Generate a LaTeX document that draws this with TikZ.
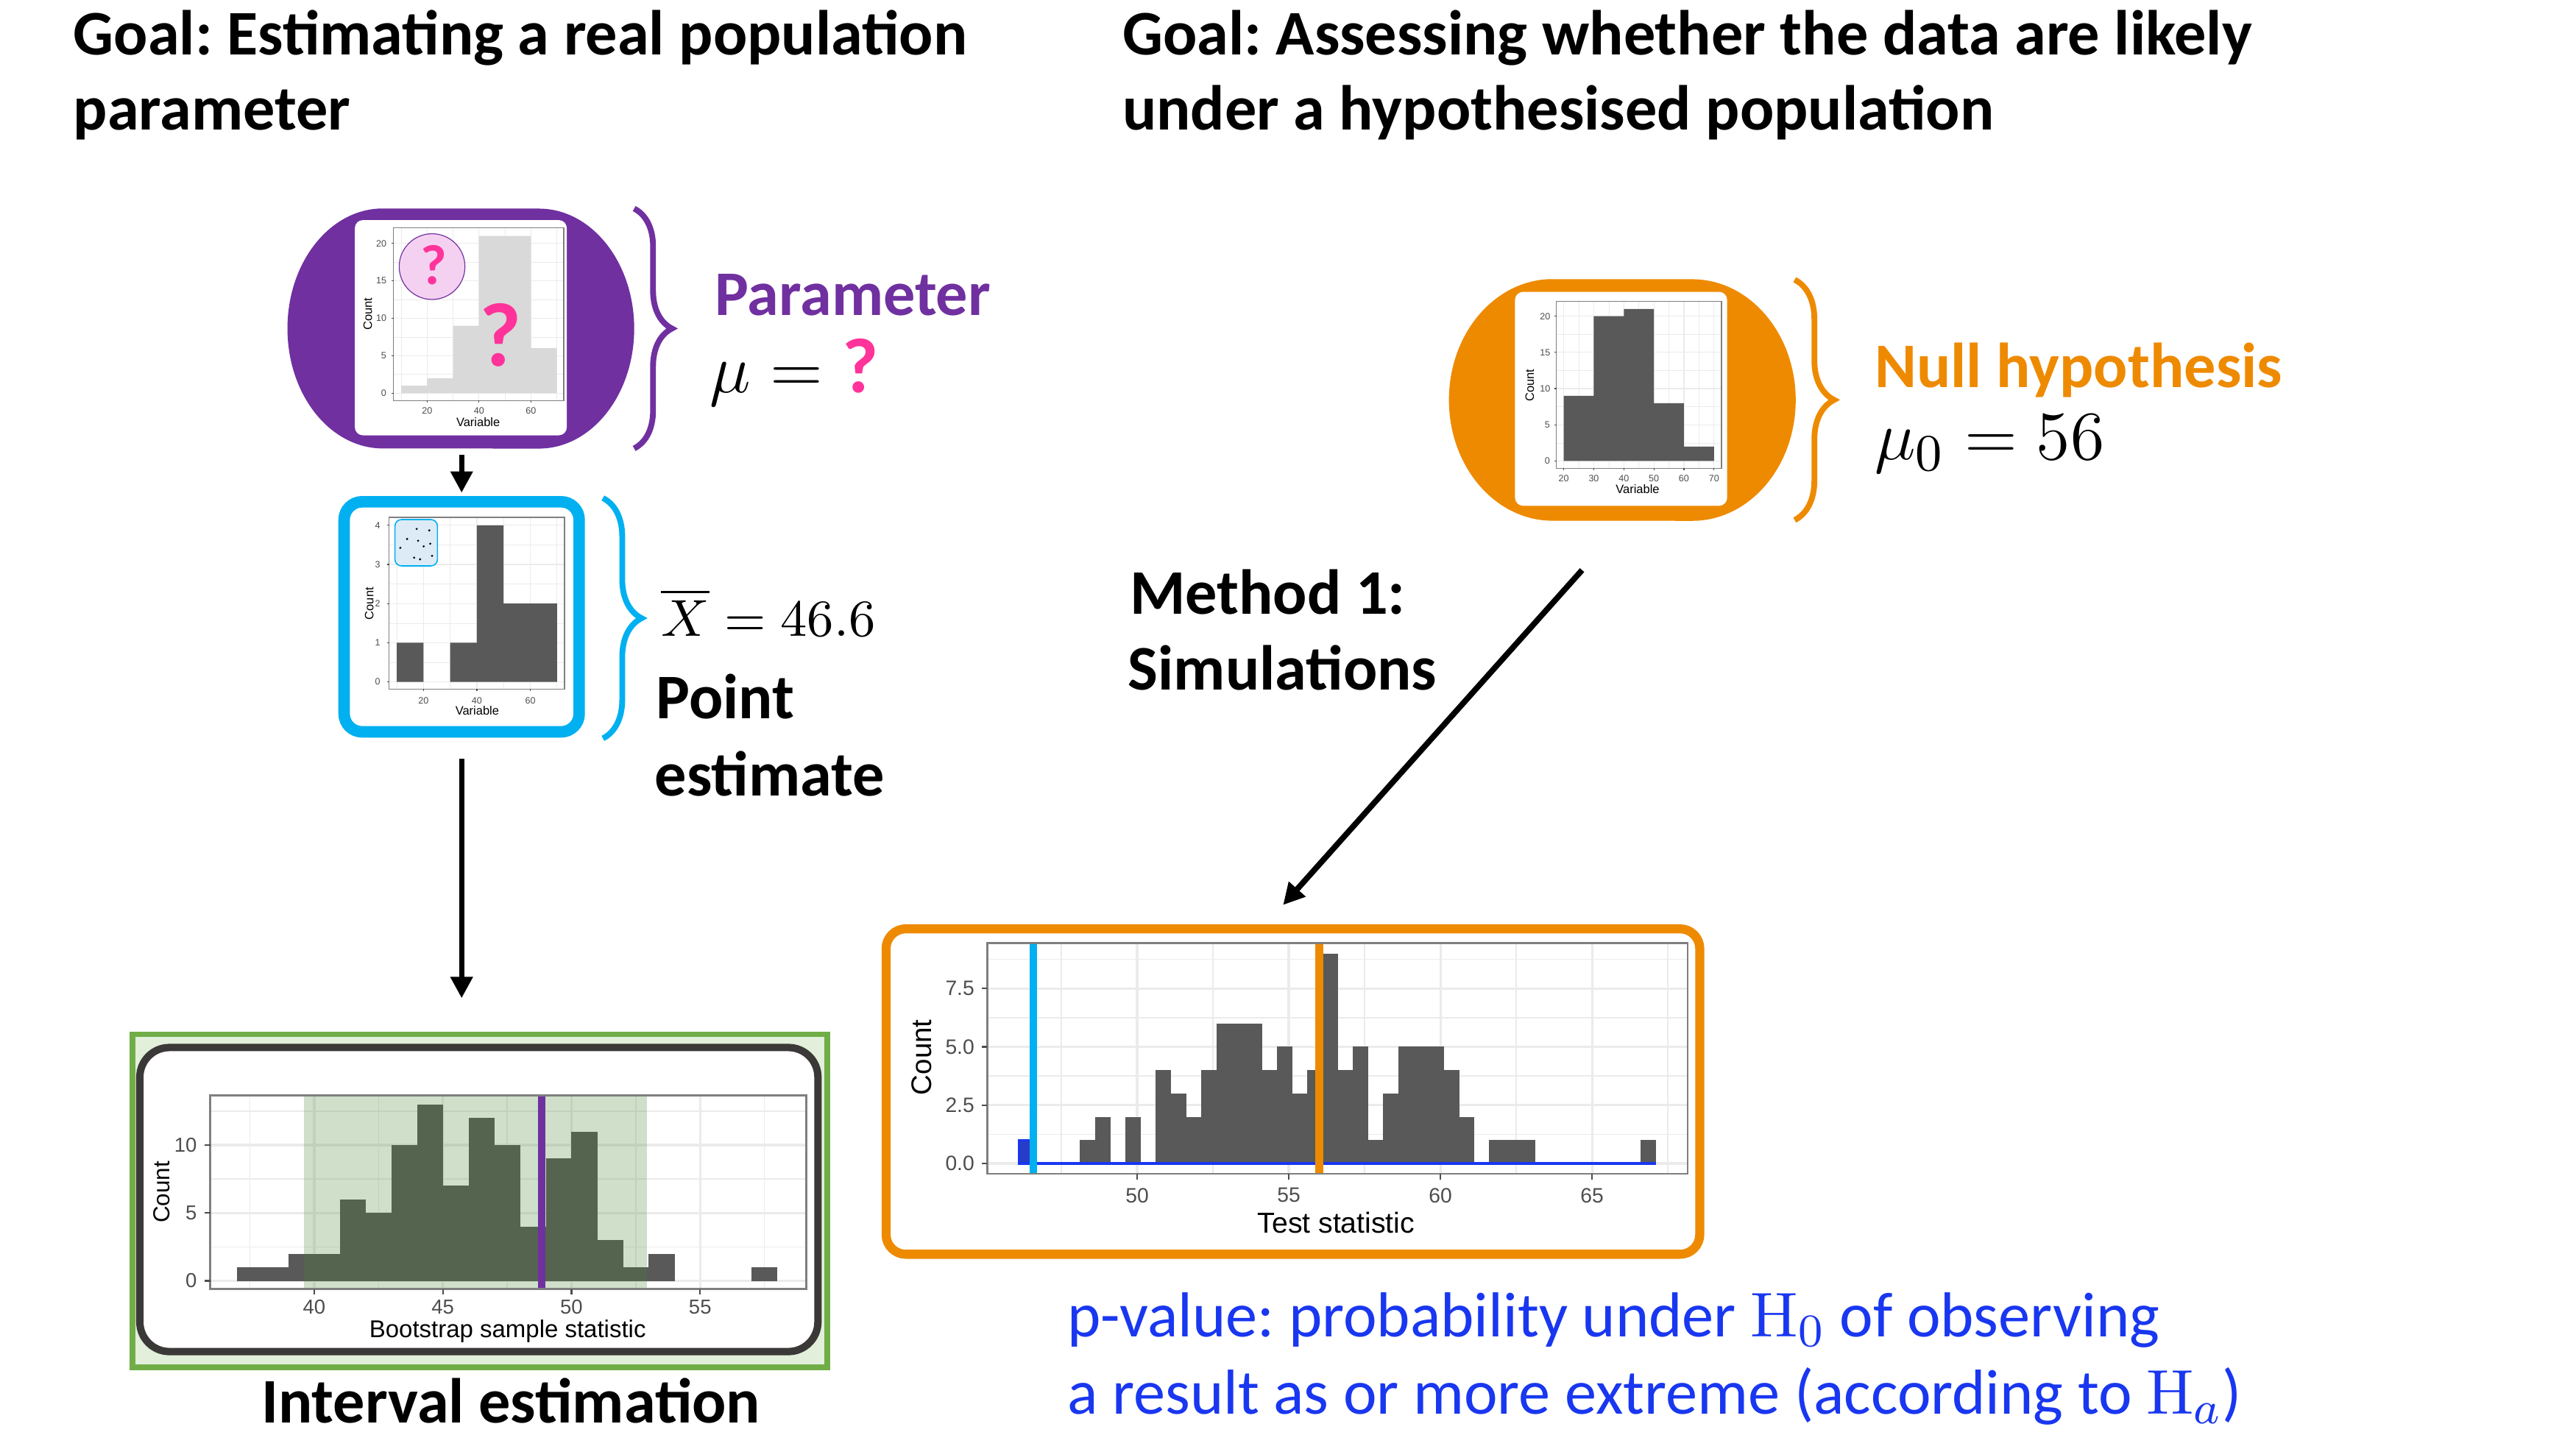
\documentclass[tikz,border=0pt]{standalone}
\usepackage[no-math]{fontspec}
\setmainfont{Carlito}
\newfontfamily\plotfont{Liberation Sans}
\usetikzlibrary{arrows.meta,decorations.pathreplacing,calc}
\definecolor{cpurple}{HTML}{7030A0}
\definecolor{cpink}{HTML}{FF339A}
\definecolor{cpinkl}{HTML}{F4D1F1}
\definecolor{ccyan}{HTML}{00B0F0}
\definecolor{corange}{HTML}{EE8A00}
\definecolor{cgreen}{HTML}{70AD47}
\definecolor{cgreenl}{HTML}{E2EFDA}
\definecolor{cdark}{HTML}{3B3838}
\definecolor{cbar}{HTML}{595959}
\definecolor{cbarl}{HTML}{D9D9D9}
\definecolor{cgrid}{HTML}{EBEBEB}
\definecolor{cband}{RGB}{70,135,54}
\definecolor{cblue}{RGB}{25,55,240}
\definecolor{cbluebar}{RGB}{40,60,200}
\definecolor{cinset}{HTML}{DDEBF7}
\definecolor{ctick}{HTML}{4D4D4D}
\definecolor{cborder}{HTML}{7F7F7F}
\frenchspacing
\begin{document}
\begin{tikzpicture}[x=0.01cm,y=-0.01cm,
  bigt/.style={font=\fontsize{11}{13}\selectfont\bfseries, inner sep=0pt, anchor=base west},
  mathl/.style={font=\fontsize{12.5}{15}\selectfont, inner sep=0pt, anchor=base west},
  bluet/.style={font=\fontsize{11}{13}\selectfont, text=cblue, inner sep=0pt, anchor=base west},
  card/.style={fill=white, rounded corners=0.05cm, inner sep=0pt, outer sep=0pt},
  holder/.style={draw=none, inner sep=0pt, outer sep=0pt},
  arrowA/.style={line width=0.9pt, -{Triangle[length=0.13cm,width=0.13cm]}},
  bracep/.style={decorate, decoration={brace, amplitude=0.23cm}, line width=1pt},
  tickS/.style={font=\plotfont\fontsize{1.6}{1.9}\selectfont, text=ctick, inner sep=0pt},
  titleS/.style={font=\plotfont\fontsize{2.1}{2.5}\selectfont, inner sep=0pt},
  tickC/.style={font=\plotfont\fontsize{3.5}{4.2}\selectfont, text=ctick, inner sep=0pt},
  tickD/.style={font=\plotfont\fontsize{3.6}{4.3}\selectfont, text=ctick, inner sep=0pt},
  gmaj/.style={cgrid, line width=0.4pt},
  gmin/.style={cgrid, line width=0.2pt},
  gmajS/.style={cgrid, line width=0.15pt},
  gminS/.style={cgrid, line width=0.08pt},
]
\useasboundingbox[fill=white] (0,0) rectangle (1568,882);

% ---------------- titles
\node[bigt] (lt1) at (44,33.2) {Goal: Estimating a real population};
\node[bigt] (lt2) at (44,79.2) {parameter};
\node[bigt] (rt1) at (682.5,33.2) {Goal: Assessing whether the data are likely};
\node[bigt] (rt2) at (682.5,79.2) {under a hypothesised population};

% ---------------- purple population blob
\node[holder, minimum width=2.11cm, minimum height=1.46cm] (pop) at (280.5,200) {};
\fill[cpurple] (233,127) -- (328,127) arc[start angle=90,end angle=-90,x radius=0.58cm,y radius=0.73cm]
  -- (233,273) arc[start angle=270,end angle=90,x radius=0.58cm,y radius=0.73cm] -- cycle;
\node[card, minimum width=1.29cm, minimum height=1.31cm] (cardA) at (280.5,199.5) {};
\begin{scope}[xshift=2.2825cm, yshift=-2.392cm, x=0.0158cm, y=0.04557cm]
  \foreach \v in {10,30,50,70} \draw[gminS] (\v,-0.99) -- (\v,22.08);
  \foreach \c in {2.5,7.5,12.5,17.5} \draw[gminS] (7.06,\c) -- (72.66,\c);
  \foreach \v in {20,40,60} \draw[gmajS] (\v,-0.99) -- (\v,22.08);
  \foreach \c in {0,5,10,15,20} \draw[gmajS] (7.06,\c) -- (72.66,\c);
  \fill[cbarl] (10,0) rectangle (20,1) (20,0) rectangle (30,2) (30,0) rectangle (40,9)
     (40,0) rectangle (60,21) (60,0) rectangle (70,6);
  \draw[cborder, line width=0.2pt] (7.06,-0.99) rectangle (72.66,22.08);
  \foreach \c [count=\i] in {0,5,10,15,20} {
    \draw[ctick, line width=0.15pt] (7.06,\c) -- ++(-0.012cm,0pt);
    \node[tickS, anchor=east] (ay\i) at ([xshift=-0.0355cm]7.06,\c) {\c};}
  \foreach \v [count=\i] in {20,40,60} {
    \draw[ctick, line width=0.15pt] (\v,-0.99) -- ++(0pt,-0.012cm);
    \node[tickS, anchor=north] (ax\i) at ([yshift=-0.034cm]\v,-0.99) {\v};}
\end{scope}
\node[titleS, rotate=90] (alab) at (223.85,191.1) {Count};
\node[titleS] (axlab) at (291.05,257.1) {Variable};
\draw[cpurple, fill=cpinkl, line width=0.15pt] (263,162.3) circle[radius=0.2cm];
\node[inner sep=0pt, text=cpink, font=\fontsize{9.8}{11}\selectfont\bfseries] (q1) at (263.85,161.6) {?};
\node[inner sep=0pt, text=cpink, font=\fontsize{15.7}{18}\selectfont\bfseries] (q2) at (304.7,203.8) {?};

\draw[bracep, cpurple] (386,127) -- (386,273);
\node[bigt, text=cpurple] (partxt) at (434.6,192) {Parameter};
\node[mathl] (mutxt) at (431.6,239) {$\mu = \mbox{\fontsize{13.5}{15}\selectfont\bfseries\color{cpink}?}$};

% ---------------- cyan sample box
\node[draw=ccyan, line width=0.07cm, fill=white, rounded corners=0.11cm, inner sep=0pt, outer sep=0pt,
      minimum width=1.43cm, minimum height=1.40cm] (samp) at (281,375.5) {};
\begin{scope}[xshift=2.251cm, yshift=-4.149cm, x=0.01625cm, y=0.2382cm]
  \foreach \v in {10,30,50,70} \draw[gminS] (\v,-0.185) -- (\v,4.2);
  \foreach \c in {0.5,1.5,2.5,3.5} \draw[gminS] (7.14,\c) -- (72.86,\c);
  \foreach \v in {20,40,60} \draw[gmajS] (\v,-0.185) -- (\v,4.2);
  \foreach \c in {0,1,2,3,4} \draw[gmajS] (7.14,\c) -- (72.86,\c);
  \fill[cbar] (10,0) rectangle (20,1) (30,0) rectangle (40,1) (40,0) rectangle (50,4) (50,0) rectangle (70,2);
  \draw[cborder, line width=0.2pt] (7.14,-0.185) rectangle (72.86,4.2);
  \foreach \c [count=\i] in {0,1,2,3,4} {
    \draw[ctick, line width=0.15pt] (7.14,\c) -- ++(-0.012cm,0pt);
    \node[tickS, anchor=east] (by\i) at ([xshift=-0.045cm]7.14,\c) {\c};}
  \foreach \v [count=\i] in {20,40,60} {
    \draw[ctick, line width=0.15pt] (\v,-0.185) -- ++(0pt,-0.012cm);
    \node[tickS, anchor=north] (bx\i) at ([yshift=-0.043cm]\v,-0.185) {\v};}
\end{scope}
\node[titleS, rotate=90] (blab) at (224.8,367.4) {Count};
\node[titleS] (bxlab) at (290.5,432.8) {Variable};
\draw[ccyan, fill=cinset, line width=0.2pt, rounded corners=0.04cm] (240.4,316.3) rectangle (266.3,344.5);
\foreach \px/\py in {253.6/322.0, 261.3/322.9, 247.8/328.1, 254.5/329.2, 243.7/333.5,
                     257.9/332.6, 261.9/331.0, 252.1/339.5, 255.7/340.5, 263.0/338.4}
  \fill[black] (\px,\py) circle[radius=0.007cm];

\draw[bracep, ccyan, decoration={amplitude=0.235cm}] (367,303.2) -- (367,449.5);
\node[inner sep=0pt, anchor=base west, font=\fontsize{9.5}{11}\selectfont] (xbar) at (401.8,387.1) {$\overline{X} = 46.6$};
\node[bigt] (pt1) at (398.8,437.6) {Point};
\node[bigt] (pt2) at (398,484.6) {estimate};

% ---------------- bootstrap (interval) box
\node[draw=cgreen, fill=cgreenl, line width=0.035cm, inner sep=0pt, outer sep=0pt,
      minimum width=4.225cm, minimum height=2.025cm] (boot) at (292,731) {};
\node[draw=cdark, fill=white, line width=0.045cm, rounded corners=0.18cm, inner sep=0pt, outer sep=0pt,
      minimum width=4.125cm, minimum height=1.85cm] (bootin) at (291.5,730.25) {};
\begin{scope}[xshift=-4.348cm, yshift=-7.793cm, x=0.1565cm, y=0.0826cm]
  \foreach \v in {37.5,42.5,47.5,52.5,57.5} \draw[gmin] (\v,-0.605) -- (\v,13.67);
  \foreach \c in {2.5,7.5,12.5} \draw[gmin] (35.96,\c) -- (59.13,\c);
  \foreach \v in {40,45,50,55} \draw[gmaj] (\v,-0.605) -- (\v,13.67);
  \foreach \c in {0,5,10} \draw[gmaj] (35.96,\c) -- (59.13,\c);
  \foreach \a/\h in {37/1,38/1,39/2,40/2,41/6,42/5,43/10,44/13,45/7,46/12,47/10,48/4,49/9,50/11,51/3,52/1,53/2,57/1}
    \fill[cbar] (\a,0) rectangle ({\a+1.01},\h);
  \fill[cband, fill opacity=0.26] (39.6,-0.605) rectangle (52.93,13.67);
  \draw[cpurple, line width=0.045cm] (48.83,-0.605) -- (48.83,13.67);
  \draw[cborder, line width=0.35pt] (35.96,-0.605) rectangle (59.13,13.67);
  \foreach \c [count=\i] in {0,5,10} {
    \draw[ctick, line width=0.3pt] (35.96,\c) -- ++(-0.035cm,0pt);
    \node[tickC, anchor=east] (cy\i) at ([xshift=-0.075cm]35.96,\c) {\c};}
  \foreach \v [count=\i] in {40,45,50,55} {
    \draw[ctick, line width=0.3pt] (\v,-0.605) -- ++(0pt,-0.035cm);
    \node[tickC, anchor=north] (cx\i) at ([yshift=-0.058cm]\v,-0.605) {\v};}
\end{scope}
\node[inner sep=0pt, rotate=90, font=\plotfont\fontsize{4}{4.8}\selectfont] (clab) at (98.3,725.8) {Count};
\node[inner sep=0pt, font=\plotfont\fontsize{4.2}{5}\selectfont] (cxlab) at (309,810.2) {Bootstrap sample statistic};
\node[bigt, anchor=base] (intv) at (311,866) {Interval estimation};

% ---------------- arrows left
\draw[arrowA] ($(samp.north |- pop.south)+(0,-0.04cm)$) -- ($(samp.north)+(0,0.055cm)$);
\draw[arrowA] ($(samp.south)+(0,-0.165cm)$) -- ($(samp.south |- boot.north)+(0,0.22cm)$);

% ---------------- orange null population blob
\node[holder, minimum width=2.11cm, minimum height=1.47cm] (nullpop) at (987.5,243.5) {};
\fill[corange] (945,170) -- (1030,170) arc[start angle=90,end angle=-90,x radius=0.63cm,y radius=0.735cm]
  -- (945,317) arc[start angle=270,end angle=90,x radius=0.63cm,y radius=0.735cm] -- cycle;
\node[card, minimum width=1.291cm, minimum height=1.302cm] (cardE) at (986.75,242.8) {};
\begin{scope}[xshift=9.1474cm, yshift=-2.805cm, x=0.01828cm, y=0.04405cm]
  \foreach \v in {25,35,45,55,65} \draw[gminS] (\v,-1.0) -- (\v,22.04);
  \foreach \c in {2.5,7.5,12.5,17.5} \draw[gminS] (17.54,\c) -- (72.46,\c);
  \foreach \v in {20,30,40,50,60,70} \draw[gmajS] (\v,-1.0) -- (\v,22.04);
  \foreach \c in {0,5,10,15,20} \draw[gmajS] (17.54,\c) -- (72.46,\c);
  \fill[cbar] (20,0) rectangle (30,9) (30,0) rectangle (40,20) (40,0) rectangle (50,21)
     (50,0) rectangle (60,8) (60,0) rectangle (70,2);
  \draw[cborder, line width=0.2pt] (17.54,-1.0) rectangle (72.46,22.04);
  \foreach \c [count=\i] in {0,5,10,15,20} {
    \draw[ctick, line width=0.15pt] (17.54,\c) -- ++(-0.012cm,0pt);
    \node[tickS, anchor=east] (ey\i) at ([xshift=-0.03cm]17.54,\c) {\c};}
  \foreach \v [count=\i] in {20,30,40,50,60,70} {
    \draw[ctick, line width=0.15pt] (\v,-1.0) -- ++(0pt,-0.012cm);
    \node[tickS, anchor=north] (ex\i) at ([yshift=-0.033cm]\v,-1.0) {\v};}
\end{scope}
\node[titleS, rotate=90] (elab) at (931.1,234.5) {Count};
\node[titleS] (exlab) at (996.8,297.9) {Variable};

\draw[bracep, corange, decoration={amplitude=0.24cm}] (1092.4,170.3) -- (1092.4,316.6);
\node[bigt, text=corange] (nulltxt) at (1140.5,236) {Null hypothesis};
\node[mathl] (mu0) at (1140.5,280) {$\mu_0 = 56$};

\node[bigt] (m1) at (687,374) {Method 1:};
\node[bigt] (m2) at (686,420) {Simulations};

% ---------------- simulation box
\node[draw=corange, line width=0.055cm, fill=white, rounded corners=0.12cm, inner sep=0pt, outer sep=0pt,
      minimum width=4.95cm, minimum height=1.98cm] (sim) at (787,664.5) {};
\begin{scope}[xshift=-2.307cm, yshift=-7.079cm, x=0.1845cm, y=0.142cm]
  \foreach \v in {47.5,52.5,57.5,62.5,67.5} \draw[gmin] (\v,-0.444) -- (\v,9.44);
  \foreach \c in {1.25,3.75,6.25,8.75} \draw[gmin] (45.06,\c) -- (68.15,\c);
  \foreach \v in {50,55,60,65} \draw[gmaj] (\v,-0.444) -- (\v,9.44);
  \foreach \c in {0,2.5,5,7.5} \draw[gmaj] (45.06,\c) -- (68.15,\c);
  \foreach \k/\h in {4/1,5/2,7/2,9/4,10/3,11/2,12/4,13/6,14/6,15/6,16/4,17/5,18/3,19/4,20/9,21/4,22/5,23/1,24/3,25/5,26/5,27/5,28/4,29/2,31/1,32/1,33/1,41/1}
    \fill[cbar] ({46.11+0.5*\k},0) rectangle ({46.62+0.5*\k},\h);
  \draw[cblue, fill=cbluebar, line width=0.4pt] (46.11,0) rectangle (46.61,1);
  \draw[cblue, line width=0.45pt] (46.11,0) -- (67.11,0);
  \draw[ccyan, line width=0.048cm] (46.58,-0.444) -- (46.58,9.44);
  \draw[corange, line width=0.048cm] (56.0,-0.444) -- (56.0,9.44);
  \draw[cborder, line width=0.35pt] (45.06,-0.444) rectangle (68.15,9.44);
  \foreach \c/\l [count=\i] in {0/0.0,2.5/2.5,5/5.0,7.5/7.5} {
    \draw[ctick, line width=0.3pt] (45.06,\c) -- ++(-0.035cm,0pt);
    \node[tickD, anchor=east] (dy\i) at ([xshift=-0.072cm]45.06,\c) {\l};}
  \foreach \v [count=\i] in {50,55,60,65} {
    \draw[ctick, line width=0.3pt] (\v,-0.444) -- ++(0pt,-0.035cm);
    \node[tickD, anchor=north] (dx\i) at ([yshift=-0.079cm]\v,-0.444) {\v};}
\end{scope}
\node[inner sep=0pt, rotate=90, font=\plotfont\fontsize{4.9}{5.9}\selectfont] (dlab) at (560.8,643.7) {Count};
\node[inner sep=0pt, font=\plotfont\fontsize{5}{6}\selectfont] (dxlab) at (813.3,744.5) {Test statistic};

\draw[arrowA, line width=1pt] ($(nullpop.south)+(-0.245cm,-0.30cm)$) -- ($(sim.north)+(-0.06cm,0.145cm)$);

% ---------------- p-value text
\node[bluet] (pv1) at (649.1,813.9) {p-value: probability under $\mathrm{H}_0$ of observing};
\node[bluet] (pv2) at (649.1,861) {a result as or more extreme (according to $\mathrm{H}_a$)};
\end{tikzpicture}
\end{document}
